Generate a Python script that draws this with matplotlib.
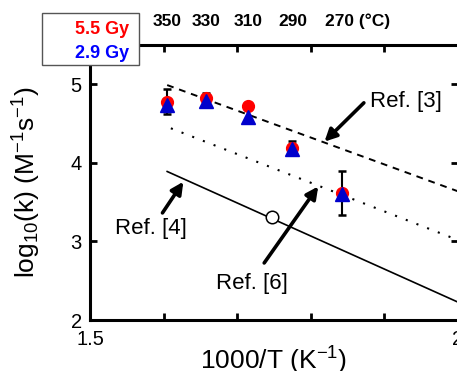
import matplotlib
matplotlib.use("Agg")
import matplotlib.pyplot as plt
from matplotlib.patches import Rectangle

plt.rcParams['font.family'] = ['Liberation Sans', 'DejaVu Sans']
plt.rcParams['mathtext.fontset'] = 'custom'
plt.rcParams['mathtext.rm'] = 'Liberation Sans'
plt.rcParams['mathtext.it'] = 'Liberation Sans:italic'
plt.rcParams['mathtext.bf'] = 'Liberation Sans:bold'

# measured points (1000/T vs log10 k)
temps_c = [350, 330, 310, 290, 270]
inv_T = [1.605, 1.658, 1.715, 1.775, 1.843]
logk_55 = [4.78, 4.83, 4.72, 4.19, 3.62]
logk_29 = [4.74, 4.79, 4.58, 4.18, 3.61]
err_55 = [0.16, 0.06, 0.0, 0.09, 0.28]

# literature fits (end points)
ref3_x = [1.605, 2.0]
ref3_y = [4.99, 3.64]
ref6_x = [1.61, 2.0]
ref6_y = [4.44, 3.02]
ref4_x = [1.605, 2.0]
ref4_y = [3.89, 2.23]
open_x = [1.748]
open_y = [3.31]

fig = plt.figure(figsize=(4.57, 3.71), dpi=100)
ax = fig.add_axes([90/457, 51/371, 367.5/457, 275/371])

ax.plot(ref3_x, ref3_y, color='k', lw=1.4, ls=(0, (3.5, 3)))
ax.plot(ref6_x, ref6_y, color='k', lw=1.5, ls=(0, (1, 4.5)))
ax.plot(ref4_x, ref4_y, color='k', lw=1.2, ls='-')
ax.plot(open_x, open_y, 'o', ms=9, mfc='white', mec='k', mew=1.1, zorder=4)

ax.errorbar(inv_T, logk_55, yerr=err_55, fmt='none', ecolor='k',
            elinewidth=1.5, capsize=3, capthick=1.8, zorder=2)
ax.plot(inv_T, logk_55, 'o', ms=8.5, color='#ff0000', mec='#ff0000', zorder=3)
ax.plot(inv_T, logk_29, '^', ms=10.5, color='#0000cc', mec='#0000cc', zorder=4)

arr = dict(arrowstyle='-|>', lw=2.6, color='k', mutation_scale=18,
           shrinkA=0, shrinkB=0)
ax.annotate('', xy=(1.819, 4.27), xytext=(1.8726, 4.764), arrowprops=arr)
ax.annotate('', xy=(1.627, 3.76), xytext=(1.5986, 3.363), arrowprops=arr)
ax.annotate('', xy=(1.8105, 3.70), xytext=(1.737, 2.726), arrowprops=arr)

ax.text(1.881, 4.777, 'Ref. [3]', fontsize=16, ha='left', va='center')
ax.text(1.534, 3.16, 'Ref. [4]', fontsize=16, ha='left', va='center')
ax.text(1.671, 2.47, 'Ref. [6]', fontsize=16, ha='left', va='center')

ax.set_xlim(1.5, 2.0)
ax.set_ylim(2, 5.5)
ax.set_xticks([1.5, 1.6, 1.7, 1.8, 1.9, 2.0])
ax.set_xticklabels(['1.5', '', '', '', '', '2'])
ax.set_yticks([2, 3, 4, 5])
ax.set_yticklabels(['2', '3', '4', '5'])
ax.tick_params(direction='in', top=True, right=True, length=5, width=2,
               labelsize=14.5)
ax.tick_params(axis='x', pad=7)
ax.tick_params(axis='y', pad=6)
for s in ['left', 'bottom', 'top']:
    ax.spines[s].set_linewidth(2.2)
ax.spines['right'].set_visible(False)

ax.set_xlabel('1000/T (K$^{-1}$)', fontsize=19, labelpad=-3)
ax.set_ylabel('log$_{10}$(k) (M$^{-1}$s$^{-1}$)', fontsize=19)
ax.yaxis.set_label_coords(-0.128, 0.5)

# temperature labels along the top
for t in temps_c:
    xpos = 1000.0 / (t + 273.15)
    if t == 270:
        ax.text(xpos - 0.022, 1.087, '270 (°C)', transform=ax.get_xaxis_transform(),
                fontsize=12.5, fontweight='bold', ha='left', va='center')
    else:
        ax.text(xpos, 1.087, str(t), transform=ax.get_xaxis_transform(),
                fontsize=12.5, fontweight='bold', ha='center', va='center')

# dose box
box = Rectangle((41.7/457, 1 - 65/371), 97.3/457, 52/371, transform=fig.transFigure,
                facecolor='white', edgecolor='#555555', lw=1, zorder=10)
fig.add_artist(box)
fig.text(129/457, 1 - 30/371, '5.5 Gy', color='#ff0000', fontsize=13,
         fontweight='bold', ha='right', va='center', zorder=11)
fig.text(129/457, 1 - 53/371, '2.9 Gy', color='#0000ff', fontsize=13,
         fontweight='bold', ha='right', va='center', zorder=11)

fig.savefig('out.png', dpi=100)
